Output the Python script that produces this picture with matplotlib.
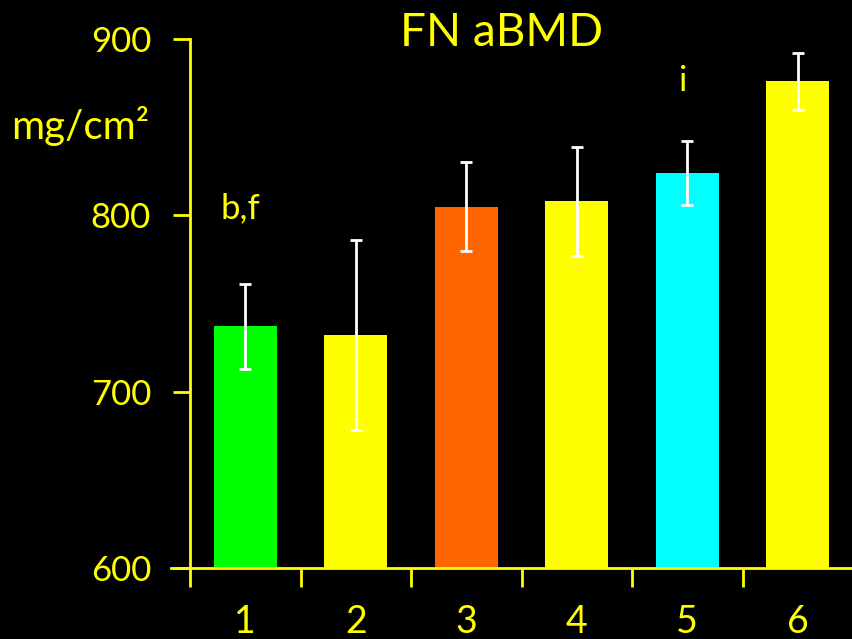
import matplotlib
matplotlib.use("Agg")
import matplotlib.pyplot as plt

categories = ["1", "2", "3", "4", "5", "6"]
means = [737, 732, 805, 808, 824, 876]
errors = [24, 54, 25, 31, 18, 16]
colors = ["#00FF00", "#FFFF00", "#FF6600", "#FFFF00", "#00FFFF", "#FFFF00"]
annotations = {0: "b,f", 4: "i"}
annot_y = [798.5, 0, 0, 0, 870.5, 0]
yticks = [600, 700, 800, 900]

YEL = "#FFFF00"
plt.rcParams['font.family'] = ['Lato', 'DejaVu Sans']

fig = plt.figure(figsize=(8.52, 6.39), dpi=100, facecolor="black")
ax = fig.add_axes([190/852, 1 - 568/639, (853-190)/852, (568-39)/639])
ax.set_facecolor("black")

x = list(range(1, len(categories) + 1))
ax.bar(x, [m - 600 for m in means], bottom=600, width=0.57, color=colors,
       edgecolor="none", zorder=2)
ax.errorbar(x, means, yerr=errors, fmt="none", ecolor="white", elinewidth=2,
            capsize=4.5, capthick=2, zorder=3)

for i, t in annotations.items():
    ax.text(x[i] - 0.04, annot_y[i], t, color=YEL, fontsize=25, ha="center", va="baseline")

ax.set_xlim(0.5, 6.5)
ax.set_ylim(600, 900)
ax.set_yticks(yticks)
ax.set_yticklabels([str(v) for v in yticks], color=YEL, fontsize=25)
ax.set_xticks([v + 0.5 for v in range(0, 6)])
ax.set_xticklabels([])
ax.set_xticks(x, minor=True)
ax.set_xticklabels(categories, minor=True, color=YEL, fontsize=27)
ax.tick_params(axis="x", which="minor", length=0, pad=26)
ax.tick_params(axis="x", which="major", length=14, width=2, color=YEL, direction="out")
ax.tick_params(axis="y", length=12, width=2, color=YEL, direction="out", pad=16)

for s in ["top", "right"]:
    ax.spines[s].set_visible(False)
ax.spines["left"].set_color(YEL)
ax.spines["left"].set_linewidth(2)
ax.spines["bottom"].set_color(YEL)
ax.spines["bottom"].set_linewidth(2)
ax.spines["bottom"].set_bounds(0.33, 6.5)

fig.text(502/852, 1 - 33/639, "FN aBMD", color=YEL, fontsize=33, ha="center", va="center")
fig.text(11/852, 1 - 126/639, "mg/cm²", color=YEL, fontsize=29, ha="left", va="center")

fig.savefig("out.png", dpi=100, facecolor="black")
